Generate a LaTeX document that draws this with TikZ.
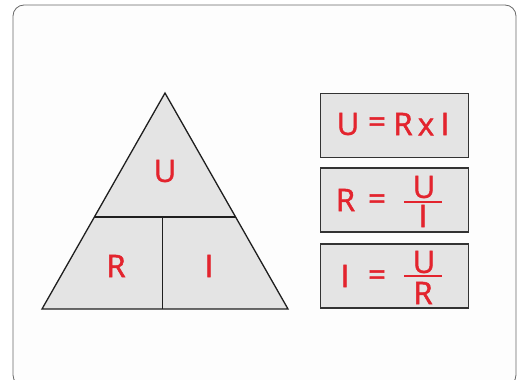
\documentclass[tikz,border=0pt]{standalone}
\usepackage{fontspec}
\setmainfont{Open Sans}
\newfontfamily\ohmfont{Open Sans}[RawFeature={embolden=1.6}]
\usetikzlibrary{positioning, calc}
\definecolor{ohmred}{RGB}{227, 36, 46}
\definecolor{panelgray}{RGB}{228, 228, 228}
\definecolor{framegray}{RGB}{105, 105, 105}
\definecolor{cardwhite}{RGB}{253, 253, 253}
\tikzset{
  letter/.style={text=ohmred, font=\ohmfont\fontsize{31}{31}\selectfont, inner sep=0pt},
  trifill/.style={fill=panelgray, draw=black!88, line width=1.3pt, line join=miter},
  triline/.style={draw=black!88, line width=1.3pt},
  formulabox/.style={fill=panelgray, draw=black!80, line width=1.6pt,
                     minimum width=148pt, minimum height=64pt, inner sep=0pt},
  fracbar/.style={draw=ohmred, line width=2pt}
}

\begin{document}
\begin{tikzpicture}[x=1pt, y=-1pt]
  \useasboundingbox (0,0) rectangle (520,380);
  % card
  \draw[framegray, fill=cardwhite, line width=0.8pt, rounded corners=11pt] (13,5) rectangle (516,386);

  % triangle
  \coordinate (apex) at (165,93);
  \coordinate (baseL) at (42,309);
  \coordinate (baseR) at (288,309);
  \coordinate (midL) at ($(baseL)!0.426!(apex)$);
  \coordinate (midR) at ($(baseR)!0.426!(apex)$);
  \coordinate (baseM) at ($(baseL)!0.49!(baseR)$);
  \draw[trifill] (baseL) -- (apex) -- (baseR) -- cycle;
  \draw[triline] (midL) -- (midR);
  \draw[triline] (baseM |- midL) -- (baseM);
  \node[letter] (triU) at (165,171) {U};
  \node[letter] (triR) at (116,266) {R};
  \node[letter] (triI) at (209,266) {I};

  % U = R x I
  \node[formulabox] (boxU) at (394.5,125.5) {};
  \node[letter] (uLeft) at (348,124) {U};
  \node[letter] (uEq) at (377,125) {=};
  \node[letter] (uR) at (403,124) {R};
  \node[letter] (uTimes) at (426,127) {x};
  \node[letter] (uI) at (445,124) {I};

  % R = U / I
  \node[formulabox] (boxR) at (394.5,200) {};
  \node[letter] (rLeft) at (345.5,200) {R};
  \node[letter] (rEq) at (377,202) {=};
  \node[letter] (rNum) at (424,187) {U};
  \node[letter] (rDen) at (423,216) {I};
  \draw[fracbar] (404,202) -- (442,202);

  % I = U / R
  \node[formulabox] (boxI) at (394.5,276) {};
  \node[letter] (iLeft) at (345,276) {I};
  \node[letter] (iEq) at (377,278) {=};
  \node[letter] (iNum) at (424,262) {U};
  \node[letter] (iDen) at (423,293) {R};
  \draw[fracbar] (404,276) -- (442,276);
\end{tikzpicture}
\end{document}
